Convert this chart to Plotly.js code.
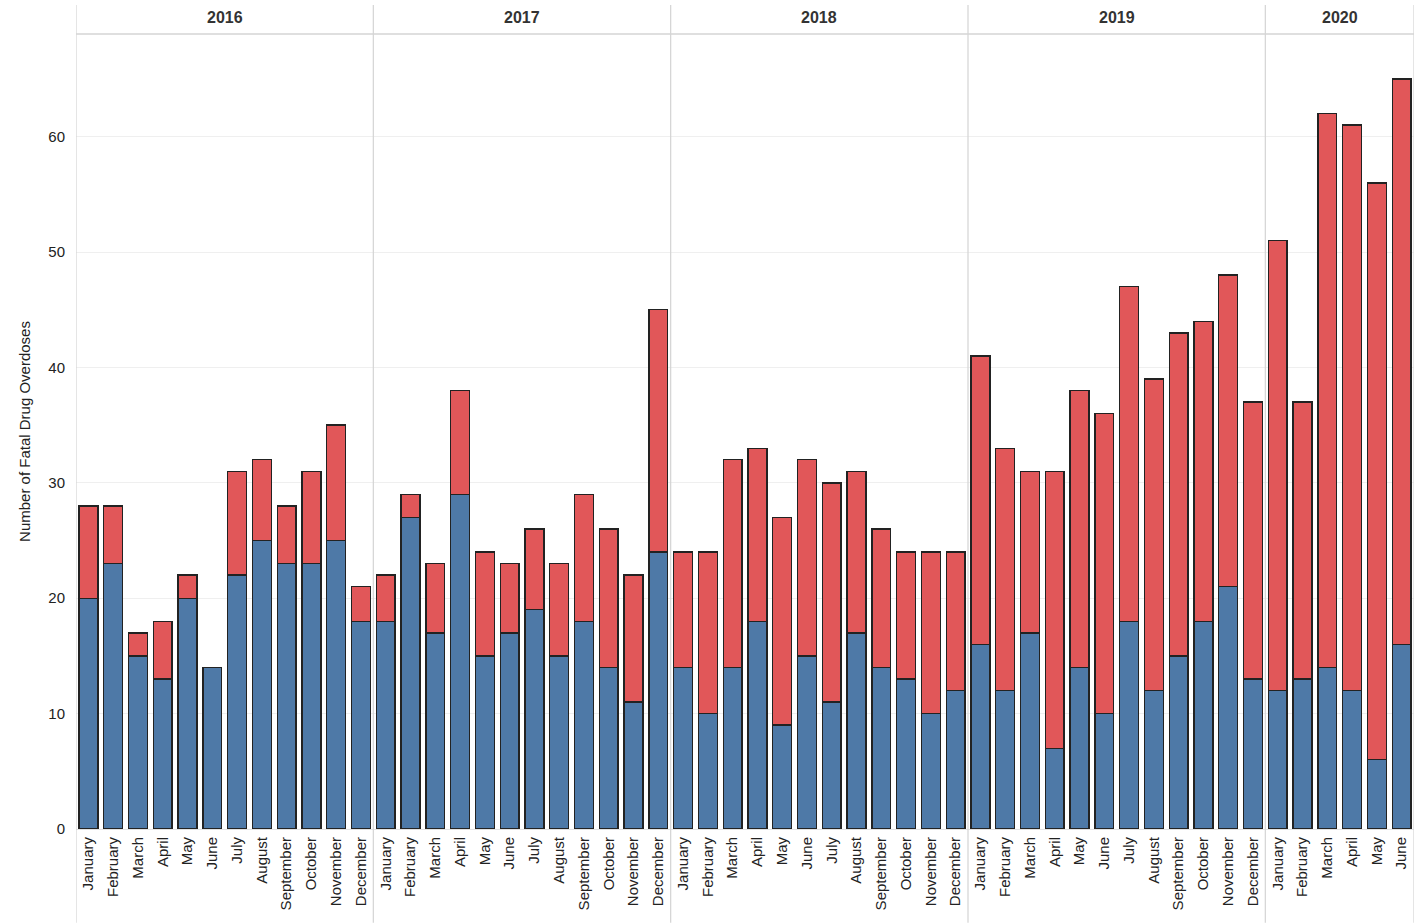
<!DOCTYPE html>
<html>
<head>
<meta charset="utf-8">
<script src="https://cdn.plot.ly/plotly-3.0.1.min.js"></script>
<style>html,body{margin:0;padding:0;background:#fff;}#chart{width:1427px;height:923px;}</style>
</head>
<body>
<div id="chart"></div>
<script>
const years = ["2016", "2017", "2018", "2019", "2020"];
const monthsPerYear = [12, 12, 12, 12, 6];
const monthNames = ["January","February","March","April","May","June","July","August","September","October","November","December"];

// Totals per month (stack top) and bottom (blue) segment
const totals2016 = [28, 28, 17, 18, 22, 14, 31, 32, 28, 31, 35, 21];
const blue2016   = [20, 23, 15, 13, 20, 14, 22, 25, 23, 23, 25, 18];
const totals2017 = [22, 29, 23, 38, 24, 23, 26, 23, 29, 26, 22, 45];
const blue2017   = [18, 27, 17, 29, 15, 17, 19, 15, 18, 14, 11, 24];
const totals2018 = [24, 24, 32, 33, 27, 32, 30, 31, 26, 24, 24, 24];
const blue2018   = [14, 10, 14, 18, 9, 15, 11, 17, 14, 13, 10, 12];
const totals2019 = [41, 33, 31, 31, 38, 36, 47, 39, 43, 44, 48, 37];
const blue2019   = [16, 12, 17, 7, 14, 10, 18, 12, 15, 18, 21, 13];
const totals2020 = [51, 37, 62, 61, 56, 65];
const blue2020   = [12, 13, 14, 12, 6, 16];

const totalsAll = [].concat(totals2016, totals2017, totals2018, totals2019, totals2020);
const blueAll = [].concat(blue2016, blue2017, blue2018, blue2019, blue2020);
const redAll = totalsAll.map((t, i) => t - blueAll[i]);

const xIdx = [];
const xLabels = [];
let k = 0;
monthsPerYear.forEach(n => { for (let m = 0; m < n; m++) { xIdx.push(k++); xLabels.push(monthNames[m]); } });

const lineStyle = {color: '#222222', width: 1.4};
const traces = [
  {type: 'bar', x: xIdx, y: blueAll, marker: {color: '#4e79a7', line: lineStyle}, width: 0.76, hoverinfo: 'skip', name: 'a'},
  {type: 'bar', x: xIdx, y: redAll, marker: {color: '#e15759', line: lineStyle}, width: 0.76, hoverinfo: 'skip', name: 'b'}
];

const FONT = '"Liberation Sans", Arial, sans-serif';
const divColor = '#d4d4d4';
const shapes = [];
const annotations = [];
let start = 0;
const boundaries = [-0.5];
monthsPerYear.forEach((n, i) => {
  annotations.push({
    text: years[i], x: start + (n - 1) / 2, xref: 'x', y: 1.0205, yref: 'paper',
    showarrow: false, yanchor: 'middle', xanchor: 'center',
    font: {family: FONT, size: 16, color: '#333', weight: 'bold'}
  });
  start += n;
  boundaries.push(start - 0.5);
});
boundaries.forEach(b => {
  shapes.push({type: 'line', xref: 'x', yref: 'paper', x0: b, x1: b, y0: -0.118, y1: 1.0365, line: {color: divColor, width: 1.2}});
});
shapes.push({type: 'line', xref: 'x', yref: 'paper', x0: -0.5, x1: 53.5, y0: 1.0, y1: 1.0, line: {color: divColor, width: 1.5}});

const layout = {
  width: 1427, height: 923,
  margin: {l: 76, r: 13, t: 34, b: 94},
  paper_bgcolor: '#fff', plot_bgcolor: '#fff',
  barmode: 'stack', showlegend: false,
  xaxis: {
    range: [-0.5, 53.5], tickvals: xIdx, ticktext: xLabels, tickangle: -90,
    showgrid: false, zeroline: false, ticks: '', showline: false, fixedrange: true,
    ticklabelstandoff: 4,
    tickfont: {family: FONT, size: 15, color: '#222'}
  },
  yaxis: {
    range: [0, 68.9], tickvals: [0, 10, 20, 30, 40, 50, 60], showgrid: true, gridcolor: '#efefef', gridwidth: 1,
    zeroline: true, zerolinecolor: '#e2e2e2', zerolinewidth: 1, ticks: '', showline: false, fixedrange: true,
    ticklabelstandoff: 10,
    tickfont: {family: FONT, size: 15, color: '#222'},
    title: {text: 'Number of Fatal Drug Overdoses', standoff: 14, font: {family: FONT, size: 15, color: '#222'}}
  },
  shapes: shapes,
  annotations: annotations
};

Plotly.newPlot('chart', traces, layout, {displayModeBar: false, staticPlot: true});
</script>
</body>
</html>
